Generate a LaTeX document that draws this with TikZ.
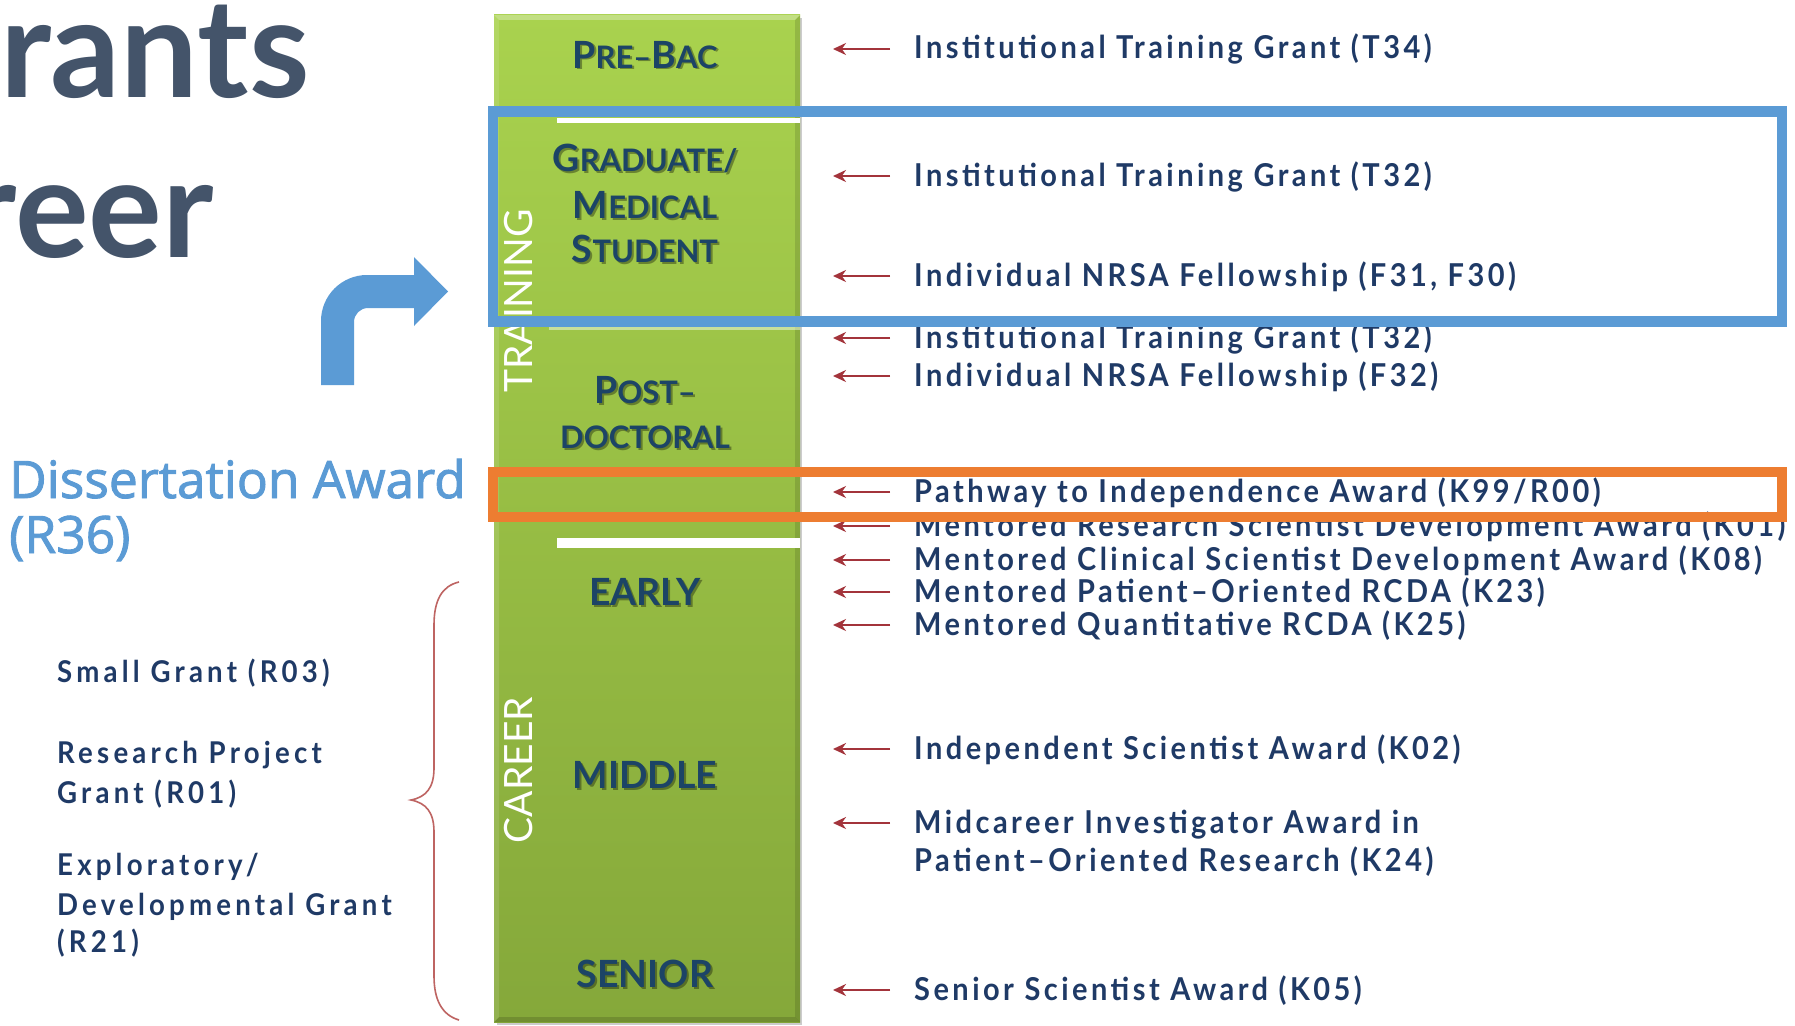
\documentclass[tikz,border=0pt]{standalone}
\usepackage{fontspec}
\setmainfont{Lato}
\newfontfamily\dissfont{Open Sans}[FakeBold=1.8]
\newfontfamily\grantfont{Lato}[FakeStretch=0.92, LetterSpace=11]
\newfontfamily\sidefont{Lato}[FakeStretch=0.92, LetterSpace=14]
\usetikzlibrary{arrows.meta}

\definecolor{titlecol}{HTML}{44546A}
\definecolor{dissblue}{HTML}{5B9BD5}
\definecolor{boxblue}{HTML}{5B9BD5}
\definecolor{boxorange}{HTML}{ED7D31}
\definecolor{grantnavy}{HTML}{1F3A66}
\definecolor{stagenavy}{HTML}{1C4466}
\definecolor{arrowred}{HTML}{A3343B}
\definecolor{bracered}{HTML}{BE6462}
\definecolor{bartop}{HTML}{A9D24E}
\definecolor{barbot}{HTML}{85A83A}

% full-height capital inside a small-caps label
\newcommand\capbig[1]{{\fontsize{37.5}{37.5}\selectfont #1}}

\begin{document}
\begin{tikzpicture}[x=1pt,y=-1pt,
  grant/.style={anchor=base west, inner sep=0pt, text=grantnavy,
    font=\grantfont\bfseries\fontsize{31.5}{31.5}\selectfont},
  sidegrant/.style={grant, font=\sidefont\bfseries\fontsize{30}{30}\selectfont},
  stage/.style={anchor=base, inner sep=0pt, text=stagenavy,
    font=\bfseries\fontsize{31}{31}\selectfont},
  stagebig/.style={stage, font=\bfseries\fontsize{37.5}{37.5}\selectfont},
  stageshadow/.style={text=black, opacity=0.35},
  band/.style={rotate=90, inner sep=0pt, text=white,
    font=\fontsize{39}{39}\selectfont},
  grantarrow/.style={draw=arrowred, line width=2.7pt,
    -{Stealth[length=13pt,width=12pt]}},
  hibox/.style={line width=10.5pt},
  headline/.style={inner sep=0pt, text=titlecol, text height=88pt, text depth=0pt,
    font=\bfseries\fontsize{138}{138}\selectfont},
  disstext/.style={anchor=base west, inner sep=0pt, text=dissblue,
    font=\dissfont\fontsize{51.5}{51.5}\selectfont},
]
\useasboundingbox (0,0) rectangle (1795,1025);
\fill[white] (0,0) rectangle (1795,1025);

% heading fragments, running off the left edge
\begin{scope}
  \clip (0,0) rectangle (1795,1025);
  \node[headline, anchor=base west] (head1) at (0,97) {rants};
  \node[headline, anchor=base east] (head2) at (214,257) {reer};
\end{scope}

% turn arrow
\fill[boxblue] (321,385) -- (321,321) arc[start angle=180,end angle=270,radius=46]
  -- (414,275) -- (414,257) -- (448,291.5) -- (414,326) -- (414,308)
  -- (368,308) arc[start angle=270,end angle=180,radius=14] -- (354,385) -- cycle;

% dissertation award
\node[disstext] (diss1) at (9,498) {Dissertation Award};
\node[disstext] (diss2) at (9,553) {(R36)};

% the career bar
\fill[black, opacity=0.2] (497,18) rectangle (802,1025);
\shade[top color=bartop, bottom color=barbot] (494,15) rectangle (800,1022);
\fill[white, opacity=0.3] (494,15) -- (800,15) -- (795,20) -- (499,20) -- cycle;
\fill[black, opacity=0.12] (800,15) -- (800,1022) -- (795,1017) -- (795,20) -- cycle;
\fill[black, opacity=0.15] (494,1022) -- (800,1022) -- (795,1017) -- (499,1017) -- cycle;
\fill[white, opacity=0.12] (494,15) -- (499,20) -- (499,1017) -- (494,1022) -- cycle;

% separators
\fill[white] (557,117.5) rectangle (800,122.5);
\fill[white, opacity=0.45] (549,326.5) rectangle (800,329.5);
\fill[white] (557,538) rectangle (800,548);

% stage labels (shadow first, then text)
\begin{scope}[shift={(2,2)}]
  \node[stage, stageshadow] (sPrebac) at (645,68) {\capbig{P}RE–\capbig{B}AC};
  \node[stage, stageshadow] (sGrad1) at (645,171) {\capbig{G}RADUATE/};
  \node[stage, stageshadow] (sGrad2) at (645,218) {\capbig{M}EDICAL};
  \node[stage, stageshadow] (sGrad3) at (645,262) {\capbig{S}TUDENT};
  \node[stage, stageshadow] (sPost1) at (645,403) {\capbig{P}OST–};
  \node[stage, stageshadow] (sPost2) at (645,448) {DOCTORAL};
  \node[stagebig, stageshadow] (sEarly) at (645,605) {EARLY};
  \node[stagebig, stageshadow] (sMiddle) at (645,788) {MIDDLE};
  \node[stagebig, stageshadow] (sSenior) at (645,987) {SENIOR};
\end{scope}
\node[stage] (prebac) at (645,68) {\capbig{P}RE–\capbig{B}AC};
\node[stage] (grad1) at (645,171) {\capbig{G}RADUATE/};
\node[stage] (grad2) at (645,218) {\capbig{M}EDICAL};
\node[stage] (grad3) at (645,262) {\capbig{S}TUDENT};
\node[stage] (post1) at (645,403) {\capbig{P}OST–};
\node[stage] (post2) at (645,448) {DOCTORAL};
\node[stagebig] (early) at (645,605) {EARLY};
\node[stagebig] (middle) at (645,788) {MIDDLE};
\node[stagebig] (senior) at (645,987) {SENIOR};

\node[band] (training) at (519,301) {TRAINING};
\node[band] (career) at (519,770) {CAREER};

% grants on the right
\node[grant] (t34) at (914,59) {Institutional Training Grant (T34)};
\node[grant] (t32a) at (914,186) {Institutional Training Grant (T32)};
\node[grant] (f31) at (914,286) {Individual NRSA Fellowship (F31, F30)};
\node[grant] (t32b) at (914,348) {Institutional Training Grant (T32)};
\node[grant] (f32) at (914,386) {Individual NRSA Fellowship (F32)};
\node[grant] (k99) at (914,502) {Pathway to Independence Award (K99/R00)};
\node[grant] (k01) at (914,536) {Mentored Research Scientist Development Award (K01)};
\node[grant] (k08) at (914,570) {Mentored Clinical Scientist Development Award (K08)};
\node[grant] (k23) at (914,602) {Mentored Patient–Oriented RCDA (K23)};
\node[grant] (k25) at (914,635) {Mentored Quantitative RCDA (K25)};
\node[grant] (k02) at (914,759) {Independent Scientist Award (K02)};
\node[grant] (k24a) at (914,833) {Midcareer Investigator Award in};
\node[grant] (k24b) at (914,871) {Patient–Oriented Research (K24)};
\node[grant] (k05) at (914,1000) {Senior Scientist Award (K05)};

\foreach \g in {t34,t32a,f31,t32b,f32,k99,k01,k08,k23,k25,k02,k24a,k05}
  \draw[grantarrow] ([shift={(-24,-10)}]\g.base west) -- ++(-57,0);

% grants on the left, grouped by a brace
\node[sidegrant] (r03) at (57,682) {Small Grant (R03)};
\node[sidegrant] (r01a) at (57,763) {Research Project};
\node[sidegrant] (r01b) at (57,803) {Grant (R01)};
\node[sidegrant] (r21a) at (57,875) {Exploratory/};
\node[sidegrant] (r21b) at (57,915) {Developmental Grant};
\node[sidegrant] (r21c) at (57,952) {(R21)};

\draw[bracered, line width=1.6pt] (459,582)
  .. controls (442,586) and (434,600) .. (434,625) -- (434,768)
  .. controls (434,788) and (426,797) .. (411,800)
  .. controls (426,803) and (434,812) .. (434,832) -- (434,976)
  .. controls (434,1000) and (442,1015) .. (459,1020);

% highlight frames
\draw[hibox, draw=boxblue] (493,111.5) rectangle (1782,321.5);
\draw[hibox, draw=boxorange] (493,472) rectangle (1782,517);
\end{tikzpicture}
\end{document}
